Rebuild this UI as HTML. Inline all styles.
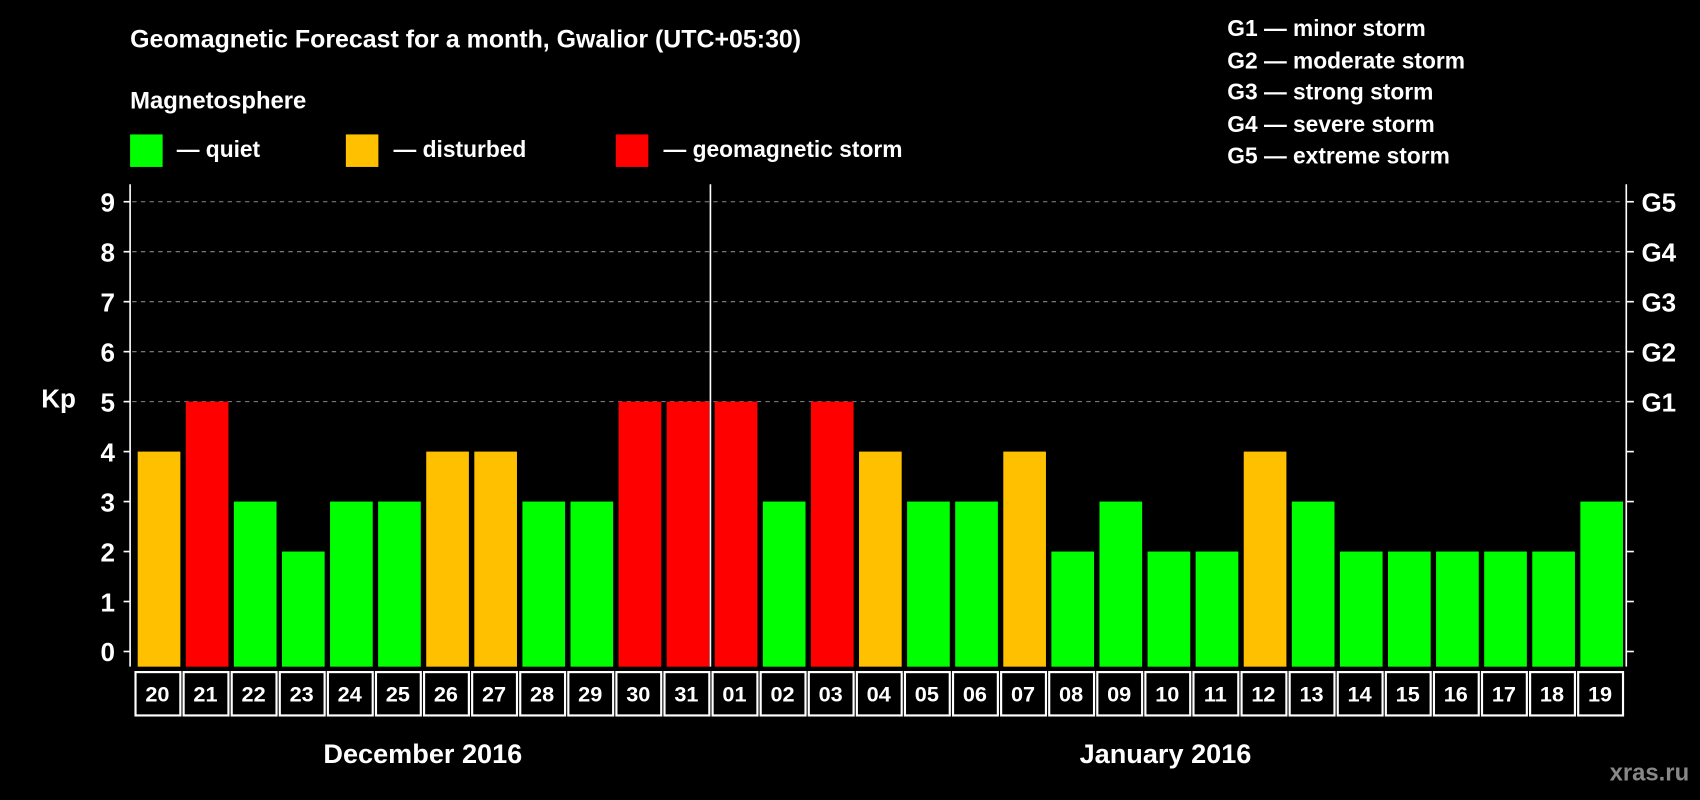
<!DOCTYPE html>
<html><head><meta charset="utf-8"><style>
html,body{margin:0;padding:0;background:#000;}
svg{display:block;font-family:"Liberation Sans",Arial,sans-serif;font-weight:bold;}
</style></head><body>
<svg id="chart" width="1700" height="800" viewBox="0 0 1568 738" preserveAspectRatio="none" xmlns="http://www.w3.org/2000/svg">
<rect width="1568" height="738" fill="#000"/>
<text x="120" y="44" fill="#fff" font-size="23">Geomagnetic Forecast for a month, Gwalior (UTC+05:30)</text>
<text x="120" y="100" fill="#fff" font-size="22">Magnetosphere</text>
<g><rect x="120" y="124" width="30" height="30" fill="#00ff00"/><text x="163" y="145" fill="#fff" font-size="21">— quiet</text></g>
<g><rect x="319" y="124" width="30" height="30" fill="#ffc000"/><text x="363" y="145" fill="#fff" font-size="21">— disturbed</text></g>
<g><rect x="568" y="124" width="30" height="30" fill="#ff0000"/><text x="612" y="145" fill="#fff" font-size="21">— geomagnetic storm</text></g>
<g fill="#fff" font-size="21">
<text x="1132" y="33">G1 — minor storm</text>
<text x="1132" y="63">G2 — moderate storm</text>
<text x="1132" y="92">G3 — strong storm</text>
<text x="1132" y="122">G4 — severe storm</text>
<text x="1132" y="151">G5 — extreme storm</text>
</g>
<text x="38" y="376" fill="#fff" font-size="24">Kp</text>
<g id="grid"></g><g id="bars"></g><g id="axes"></g><g id="dates"></g>
<text x="390" y="704" fill="#fff" font-size="25" text-anchor="middle">December 2016</text>
<text x="1075" y="704" fill="#fff" font-size="25" text-anchor="middle">January 2016</text>
<text x="1558" y="720" fill="#888" font-size="22" text-anchor="end">xras.ru</text>
</svg>
<script>
const days=["20","21","22","23","24","25","26","27","28","29","30","31","01","02","03","04","05","06","07","08","09","10","11","12","13","14","15","16","17","18","19"];
const kp=[4,5,3,2,3,3,4,4,3,3,5,5,5,3,5,4,3,3,4,2,3,2,2,4,3,2,2,2,2,2,3];
const yTicks=[0,1,2,3,4,5,6,7,8,9];
const gLabels=[[5,"G1"],[6,"G2"],[7,"G3"],[8,"G4"],[9,"G5"]];
const NS="http://www.w3.org/2000/svg";
const L=122,R=1497,T=170,B=615;
const slot=(R-L)/days.length;
function y(v){return 601-v*46.1;}
function x(i){return L+i*slot;}
function mk(tag,attrs,parent,txt){const e=document.createElementNS(NS,tag);for(const k in attrs)e.setAttribute(k,attrs[k]);if(txt!==undefined)e.textContent=txt;parent.appendChild(e);return e;}
function color(v){return v>=5?"#ff0000":v>=4?"#ffc000":"#00ff00";}
const grid=document.getElementById("grid"),bars=document.getElementById("bars"),axes=document.getElementById("axes"),dates=document.getElementById("dates");
gLabels.forEach(g=>{
 const l=mk("line",{x1:L,x2:R,y1:y(g[0]),y2:y(g[0]),stroke:"#888","stroke-dasharray":"4,4","stroke-width":1},grid);
 
 
 const t=mk("text",{x:1514,y:y(g[0])+9,fill:"#fff","font-size":24},axes,g[1]);
 
 
});
kp.forEach((v,i)=>{
 const r=mk("rect",{x:x(i)+5,y:y(v),width:slot-5,height:B-y(v),fill:color(v)},bars);
 
 
 const b=mk("rect",{x:x(i)+3,y:620,width:slot-3,height:40,fill:"none",stroke:"#fff","stroke-width":2},dates);
 
 
 const t=mk("text",{x:x(i)+slot/2+1,y:647,fill:"#fff","font-size":20,"text-anchor":"middle"},dates,days[i]);
 
 
});
yTicks.forEach(v=>{
 const t=mk("text",{x:106,y:y(v)+9,fill:"#fff","font-size":24,"text-anchor":"end"},axes,String(v));
 
 
 mk("line",{x1:114,x2:120,y1:y(v),y2:y(v),stroke:"#fff","stroke-width":1.5},axes);
 mk("line",{x1:1500,x2:1507,y1:y(v),y2:y(v),stroke:"#fff","stroke-width":1.5},axes);
});
const ax=mk("path",{d:`M120 ${T}V${B}M1500 ${T}V${B}`,stroke:"#fff","stroke-width":1.5,fill:"none"},axes);


const dv=mk("line",{x1:x(12)+1,x2:x(12)+1,y1:T,y2:B,stroke:"#fff","stroke-width":1.5},axes);


</script>
</body></html>
